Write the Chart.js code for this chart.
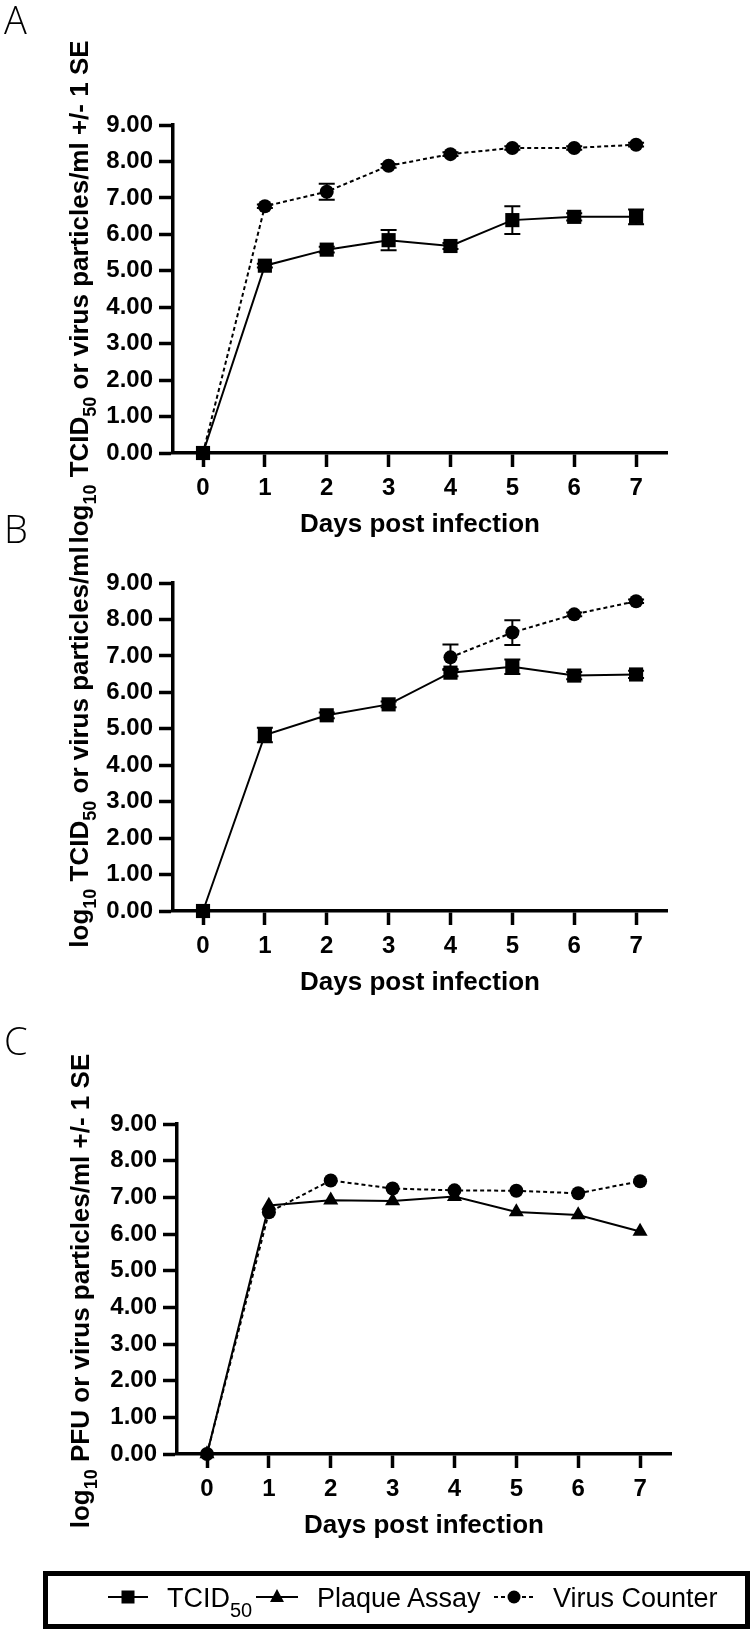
<!DOCTYPE html>
<html>
<head>
<meta charset="utf-8">
<script src="https://cdn.jsdelivr.net/npm/chart.js@4.4.1/dist/chart.umd.min.js"></script>
<style>
  html, body { margin: 0; padding: 0; background: #fff; }
  #wrap { position: relative; width: 754px; height: 1634px; overflow: hidden; background: #fff; }
  canvas { position: absolute; left: 0; }
  svg { position: absolute; left: 0; top: 0; pointer-events: none; }
</style>
</head>
<body>
<div id="wrap">
  <canvas id="cA" width="754" height="553" style="top:0px"></canvas>
  <canvas id="cB" width="754" height="458" style="top:553px"></canvas>
  <canvas id="cC" width="754" height="543" style="top:1011px"></canvas>
  <svg width="754" height="1634" xmlns="http://www.w3.org/2000/svg" font-family="'Liberation Sans', Arial, sans-serif">
    <!-- panel letters -->
    <text x="4" y="34" font-size="38" font-family="'Open Sans', 'Liberation Sans', sans-serif" font-weight="300">A</text>
    <text x="4" y="543" font-size="38" font-family="'Open Sans', 'Liberation Sans', sans-serif" font-weight="300">B</text>
    <text x="4" y="1055" font-size="38" font-family="'Open Sans', 'Liberation Sans', sans-serif" font-weight="300">C</text>
    <!-- y-axis titles -->
    <text transform="translate(88,292) rotate(-90)" text-anchor="middle" font-size="26" font-weight="bold">log<tspan dy="8" font-size="18">10</tspan><tspan dy="-8"> TCID</tspan><tspan dy="8" font-size="18">50</tspan><tspan dy="-8"> or virus particles/ml +/- 1 SE</tspan></text>
    <text transform="translate(88,747) rotate(-90)" text-anchor="middle" font-size="26" font-weight="bold">log<tspan dy="8" font-size="18">10</tspan><tspan dy="-8"> TCID</tspan><tspan dy="8" font-size="18">50</tspan><tspan dy="-8"> or virus particles/ml</tspan></text>
    <text transform="translate(89,1291) rotate(-90)" text-anchor="middle" font-size="26" font-weight="bold">log<tspan dy="8" font-size="18">10</tspan><tspan dy="-8"> PFU or virus particles/ml +/- 1 SE</tspan></text>
    <!-- legend -->
    <rect x="45.5" y="1573.5" width="702" height="53" fill="none" stroke="#000" stroke-width="5"/>
    <line x1="108" y1="1597" x2="148" y2="1597" stroke="#000" stroke-width="2"/>
    <rect x="121.5" y="1590.5" width="13" height="13" fill="#000"/>
    <text x="167" y="1607" font-size="27">TCID<tspan dy="10" font-size="20">50</tspan></text>
    <line x1="256" y1="1597" x2="298" y2="1597" stroke="#000" stroke-width="2"/>
    <polygon points="277,1589 284,1602 270,1602" fill="#000"/>
    <text x="317" y="1607" font-size="27">Plaque Assay</text>
    <line x1="494" y1="1597" x2="535" y2="1597" stroke="#000" stroke-width="2" stroke-dasharray="4,3"/>
    <circle cx="514" cy="1597" r="6.5" fill="#000"/>
    <text x="553" y="1607" font-size="27">Virus Counter</text>
  </svg>
</div>
<script>
// ---------------- data ----------------
const days = [0, 1, 2, 3, 4, 5, 6, 7];
const yTickValues = [0, 1, 2, 3, 4, 5, 6, 7, 8, 9];

// Panel A
const aTcid   = [0, 5.14, 5.58, 5.84, 5.68, 6.39, 6.48, 6.48];
const aTcidSE = [0, 0.05, 0.08, 0.28, 0.08, 0.38, 0.10, 0.20];
const aVC     = [0, 6.77, 7.17, 7.88, 8.20, 8.37, 8.37, 8.46];
const aVCSE   = [0, 0.05, 0.22, 0.05, 0.05, 0.05, 0.05, 0.05];

// Panel B
const bTcid   = [0, 4.83, 5.37, 5.67, 6.54, 6.70, 6.46, 6.49];
const bTcidSE = [0, 0.20, 0.08, 0.08, 0.10, 0.20, 0.10, 0.10];
const bVCDays = [4, 5, 6, 7];
const bVC     = [6.96, 7.64, 8.14, 8.50];
const bVCSE   = [0.35, 0.34, 0.05, 0.05];

// Panel C
const cPlaque = [0, 6.78, 6.92, 6.90, 7.02, 6.60, 6.52, 6.07];
const cVC     = [0, 6.59, 7.46, 7.24, 7.19, 7.18, 7.11, 7.44];

// ---------------- helpers ----------------
const FAM = "'Liberation Sans', Arial, sans-serif";
const pts = (xs, ys) => xs.map((x, i) => ({ x: x, y: ys[i] }));

const errorBars = {
  id: 'errorBars',
  beforeDatasetsDraw(chart) {
    const ctx = chart.ctx, xs = chart.scales.x, ys = chart.scales.y;
    chart.data.datasets.forEach(ds => {
      if (!ds.errors) return;
      ctx.save();
      ctx.strokeStyle = '#000';
      ctx.lineWidth = 2;
      ds.data.forEach((p, j) => {
        const e = ds.errors[j];
        if (!e) return;
        const px = xs.getPixelForValue(p.x);
        const t = ys.getPixelForValue(p.y + e);
        const b = ys.getPixelForValue(p.y - e);
        ctx.beginPath();
        ctx.moveTo(px, t); ctx.lineTo(px, b);
        ctx.moveTo(px - 8, t); ctx.lineTo(px + 8, t);
        ctx.moveTo(px - 8, b); ctx.lineTo(px + 8, b);
        ctx.stroke();
      });
      ctx.restore();
    });
  }
};

function series(data, style, errors, dashed) {
  const r = style === 'rect' ? 10 : (style === 'triangle' ? 8.7 : 7);
  const d = {
    data: data,
    borderColor: '#000',
    backgroundColor: '#000',
    borderWidth: 2,
    pointStyle: style,
    pointBackgroundColor: '#000',
    pointBorderColor: '#000',
    pointBorderWidth: 0,
    pointRadius: r,
    pointHoverRadius: r,
    tension: 0,
    fill: false,
    clip: false
  };
  if (dashed) d.borderDash = [4, 3];
  if (errors) d.errors = errors;
  return d;
}

function makeChart(id, datasets, top, left, right) {
  const axisCommon = {
    grid: { display: true, drawOnChartArea: false, drawTicks: true, tickLength: 14, tickWidth: 3.5, tickColor: '#000' },
    border: { display: true, width: 3.5, color: '#000' }
  };
  return new Chart(document.getElementById(id), {
    type: 'line',
    data: { datasets: datasets },
    options: {
      responsive: false,
      animation: false,
      events: [],
      layout: { padding: { top: top, right: right, left: 0, bottom: 0 } },
      plugins: { legend: { display: false }, tooltip: { enabled: false } },
      scales: {
        x: Object.assign({
          type: 'linear',
          min: -0.485,
          max: 7.5,
          afterFit: s => { s.height = 100; },
          afterBuildTicks: s => { s.ticks = days.map(v => ({ value: v })); },
          ticks: { padding: 7, color: '#000', autoSkip: false, maxRotation: 0,
                   font: { family: FAM, size: 24, weight: 'bold' } },
          title: { display: true, text: 'Days post infection', color: '#000',
                   font: { family: FAM, size: 26, weight: 'bold' }, padding: { top: 0, bottom: 13 } }
        }, axisCommon),
        y: Object.assign({
          min: 0,
          max: 9,
          afterFit: s => { s.width = left; },
          afterBuildTicks: s => { s.ticks = yTickValues.map(v => ({ value: v })); },
          ticks: { padding: 6, color: '#000', callback: v => Number(v).toFixed(2),
                   font: { family: FAM, size: 24, weight: 'bold' } }
        }, axisCommon)
      }
    },
    plugins: [errorBars]
  });
}

// Panel A
makeChart('cA', [
  series(pts(days, aTcid), 'rect', aTcidSE, false),
  series(pts(days, aVC), 'circle', aVCSE, true)
], 125, 173, 87);

// Panel B
makeChart('cB', [
  series(pts(days, bTcid), 'rect', bTcidSE, false),
  series(pts(bVCDays, bVC), 'circle', bVCSE, true)
], 30, 173, 87);

// Panel C
makeChart('cC', [
  series(pts(days, cVC), 'circle', null, true),
  series(pts(days, cPlaque), 'triangle', null, false)
], 113, 177, 83);
</script>
</body>
</html>
